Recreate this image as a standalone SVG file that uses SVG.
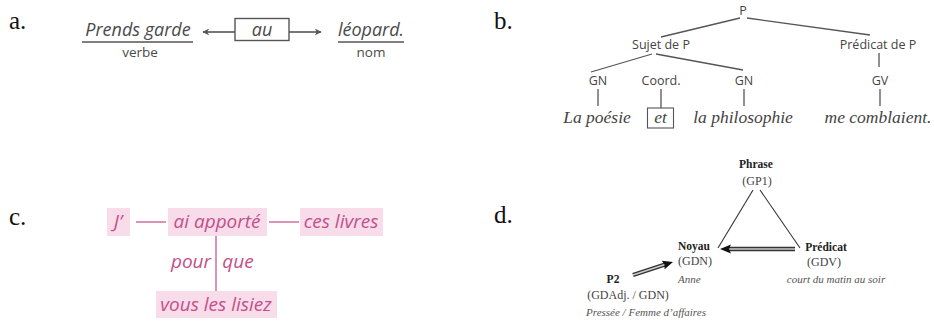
<svg xmlns="http://www.w3.org/2000/svg" width="934" height="322" viewBox="0 0 934 322">
  <defs>
    <style>
      .lbl { font-family: "Liberation Serif", serif; font-size: 25px; fill: #111; }
      .a-it { font-family: "Open Sans", sans-serif; font-style: italic; font-size: 18px; fill: #4a4a4a; }
      .a-sm { font-family: "Open Sans", sans-serif; font-size: 13.5px; fill: #4a4a4a; }
      .a-ln { stroke: #555; stroke-width: 1.6; fill: none; }
      .b-sf { font-family: "Open Sans", sans-serif; font-size: 12.5px; fill: #444; }
      .b-it { font-family: "Liberation Serif", serif; font-style: italic; font-size: 17.5px; fill: #444; }
      .b-ln { stroke: #555; stroke-width: 1.3; fill: none; }
      .c-box { fill: #f8dcea; }
      .c-tx { font-family: "Open Sans", sans-serif; font-style: italic; font-size: 19px; fill: #c2508a; }
      .c-ln { stroke: #cf6fa0; stroke-width: 1.5; fill: none; }
      .d-b { font-family: "Liberation Serif", serif; font-weight: bold; font-size: 11.5px; fill: #222; }
      .d-r { font-family: "Liberation Serif", serif; font-size: 12px; fill: #444; }
      .d-i { font-family: "Liberation Serif", serif; font-style: italic; font-size: 11px; fill: #555; }
      .d-ln { stroke: #333; stroke-width: 1.1; fill: none; }
    </style>
    <marker id="arrA" viewBox="0 0 10 10" refX="9" refY="5" markerWidth="7" markerHeight="7" markerUnits="userSpaceOnUse" orient="auto">
      <path d="M0,0 L10,5 L0,10 L3,5 Z" fill="#555"/>
    </marker>
  </defs>

  <!-- panel labels -->
  <text class="lbl" x="9" y="29">a.</text>
  <text class="lbl" x="494" y="29">b.</text>
  <text class="lbl" x="9" y="225">c.</text>
  <text class="lbl" x="494" y="223">d.</text>

  <!-- a. Prends garde au léopard -->
  <g id="a-verbe">
    <text class="a-it" x="138" y="36" text-anchor="middle">Prends garde</text>
    <line class="a-ln" x1="82" y1="42" x2="193" y2="42"/>
    <text class="a-sm" x="140" y="57" text-anchor="middle">verbe</text>
  </g>
  <g id="a-au">
    <rect x="235" y="18.5" width="54" height="22" fill="none" stroke="#555" stroke-width="1.4"/>
    <text class="a-it" x="262" y="36" text-anchor="middle">au</text>
  </g>
  <g id="a-nom">
    <text class="a-it" x="371" y="36" text-anchor="middle">léopard.</text>
    <line class="a-ln" x1="338" y1="42" x2="404" y2="42"/>
    <text class="a-sm" x="371" y="57" text-anchor="middle">nom</text>
  </g>
  <g id="a-connectors">
    <line class="a-ln" x1="235" y1="32" x2="203" y2="32" marker-end="url(#arrA)"/>
    <line class="a-ln" x1="289" y1="32" x2="321" y2="32" marker-end="url(#arrA)"/>
  </g>

  <!-- b. syntactic tree -->
  <g id="b-P"><text class="b-sf" x="743" y="15" text-anchor="middle">P</text></g>
  <g id="b-sujet"><text class="b-sf" x="661" y="49" text-anchor="middle">Sujet de P</text></g>
  <g id="b-predicat"><text class="b-sf" x="878" y="49" text-anchor="middle">Prédicat de P</text></g>
  <g id="b-gn1"><text class="b-sf" x="598" y="85" text-anchor="middle">GN</text></g>
  <g id="b-coord"><text class="b-sf" x="661" y="85" text-anchor="middle">Coord.</text></g>
  <g id="b-gn2"><text class="b-sf" x="744" y="85" text-anchor="middle">GN</text></g>
  <g id="b-gv"><text class="b-sf" x="880" y="85" text-anchor="middle">GV</text></g>
  <g id="b-w1"><text class="b-it" x="597" y="123" text-anchor="middle">La poésie</text></g>
  <g id="b-et">
    <rect x="647.5" y="108" width="26" height="20" fill="none" stroke="#555" stroke-width="1.1"/>
    <text class="b-it" x="660.5" y="123" text-anchor="middle">et</text>
  </g>
  <g id="b-w2"><text class="b-it" x="743" y="123" text-anchor="middle">la philosophie</text></g>
  <g id="b-w3"><text class="b-it" x="878" y="123" text-anchor="middle">me comblaient.</text></g>
  <g id="b-connectors">
    <line class="b-ln" x1="740" y1="18" x2="661" y2="37"/>
    <line class="b-ln" x1="747" y1="18" x2="870" y2="35"/>
    <line class="b-ln" x1="652" y1="54" x2="591" y2="72"/>
    <line class="b-ln" x1="656" y1="54" x2="743" y2="70"/>
    <line class="b-ln" x1="879" y1="53" x2="879" y2="67"/>
    <line class="b-ln" x1="598" y1="89" x2="598" y2="106"/>
    <line class="b-ln" x1="661" y1="89" x2="661" y2="108"/>
    <line class="b-ln" x1="744" y1="89" x2="744" y2="106"/>
    <line class="b-ln" x1="880" y1="89" x2="880" y2="106"/>
  </g>

  <!-- c. J'ai apporté ces livres pour que vous les lisiez -->
  <g id="c-j">
    <rect class="c-box" x="107" y="208" width="23" height="28"/>
    <text class="c-tx" x="118" y="228" text-anchor="middle">J’</text>
  </g>
  <g id="c-verbe">
    <rect class="c-box" x="168" y="208" width="99" height="28"/>
    <text class="c-tx" x="217" y="228" text-anchor="middle">ai apporté</text>
  </g>
  <g id="c-livres">
    <rect class="c-box" x="300" y="208" width="83" height="28"/>
    <text class="c-tx" x="341" y="228" text-anchor="middle">ces livres</text>
  </g>
  <g id="c-lisiez">
    <rect class="c-box" x="156" y="291" width="121" height="27"/>
    <text class="c-tx" x="216" y="311" text-anchor="middle">vous les lisiez</text>
  </g>
  <g id="c-connectors">
    <line class="c-ln" x1="136" y1="222" x2="166" y2="222"/>
    <line class="c-ln" x1="269" y1="222" x2="299" y2="222"/>
    <line class="c-ln" x1="216" y1="236" x2="216" y2="291"/>
    <text class="c-tx" x="191" y="268" text-anchor="middle">pour</text>
    <text class="c-tx" x="238" y="268" text-anchor="middle">que</text>
  </g>

  <!-- d. triangle of functions -->
  <g id="d-phrase">
    <text class="d-b" x="756" y="168" text-anchor="middle">Phrase</text>
    <text class="d-r" x="757" y="185" text-anchor="middle">(GP1)</text>
  </g>
  <g id="d-noyau">
    <text class="d-b" x="678" y="250">Noyau</text>
    <text class="d-r" x="678" y="265">(GDN)</text>
    <text class="d-i" x="678" y="283">Anne</text>
  </g>
  <g id="d-predicat">
    <text class="d-b" x="826" y="251" text-anchor="middle">Prédicat</text>
    <text class="d-r" x="824" y="266" text-anchor="middle">(GDV)</text>
    <text class="d-i" x="836" y="283" text-anchor="middle">court du matin au soir</text>
  </g>
  <g id="d-p2">
    <text class="d-b" x="613" y="283" text-anchor="middle">P2</text>
    <text class="d-r" x="628" y="299" text-anchor="middle">(GDAdj. / GDN)</text>
    <text class="d-i" x="646" y="316" text-anchor="middle">Pressée / Femme d’affaires</text>
  </g>
  <g id="d-connectors">
    <line class="d-ln" x1="753" y1="190" x2="718" y2="248"/>
    <line class="d-ln" x1="760" y1="190" x2="800" y2="248"/>
    <!-- double-shaft arrow Prédicat -> Noyau -->
    <line x1="795" y1="249" x2="728" y2="249" stroke="#333" stroke-width="4.4"/>
    <line x1="795" y1="249" x2="728" y2="249" stroke="#ccc" stroke-width="1.4"/>
    <path d="M720,249 L731,244.5 L729,249 L731,253.5 Z" fill="#111"/>
    <!-- double-shaft arrow P2 -> Noyau -->
    <line x1="633" y1="275" x2="665" y2="264.5" stroke="#333" stroke-width="4.4"/>
    <line x1="633" y1="275" x2="665" y2="264.5" stroke="#ccc" stroke-width="1.4"/>
    <path d="M673,262 L664.6,269.3 L664.5,264.6 L661.8,260.7 Z" fill="#111"/>
  </g>
</svg>
